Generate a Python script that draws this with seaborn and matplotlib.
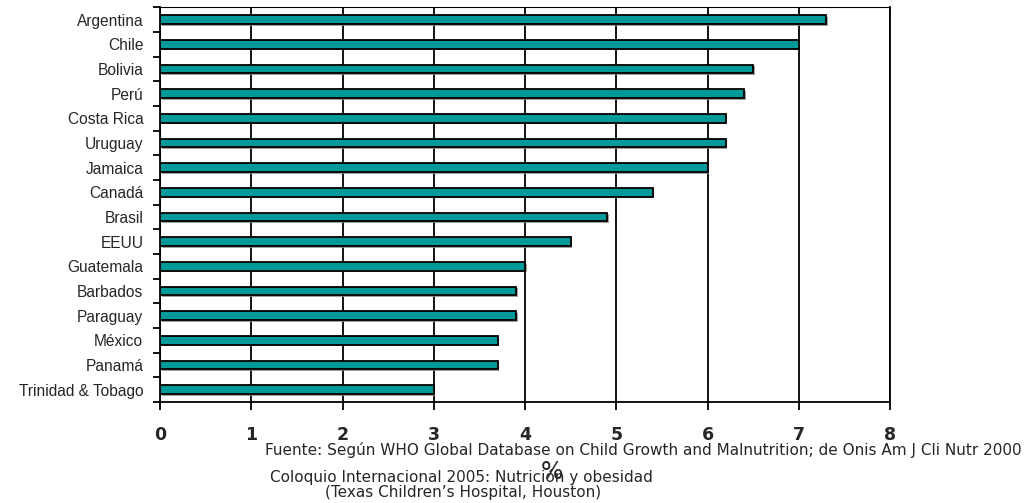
import matplotlib
matplotlib.use("Agg")
import matplotlib.pyplot as plt
import matplotlib.patheffects as pe
import numpy as np
import pandas as pd
import seaborn as sns

countries = ["Argentina", "Chile", "Bolivia", "Perú", "Costa Rica", "Uruguay",
             "Jamaica", "Canadá", "Brasil", "EEUU", "Guatemala", "Barbados",
             "Paraguay", "México", "Panamá", "Trinidad & Tobago"]
prevalence = [7.3, 7.0, 6.5, 6.4, 6.2, 6.2, 6.0, 5.4, 4.9, 4.5, 4.0, 3.9,
              3.9, 3.7, 3.7, 3.0]
x_ticks = [0, 1, 2, 3, 4, 5, 6, 7, 8]

source_note = ("Fuente: Según WHO Global Database on Child Growth and "
               "Malnutrition; de Onis Am J Cli Nutr 2000")
event_note = "Coloquio Internacional 2005: Nutrición y obesidad"
venue_note = "(Texas Children\u2019s Hospital, Houston)"

df = pd.DataFrame({"pais": countries, "valor": prevalence})

sns.set_theme(style="white")
plt.rcParams["font.family"] = ["Liberation Sans", "DejaVu Sans"]

fig = plt.figure(figsize=(10.27, 5.03), dpi=100)
ax = fig.add_axes([0.1558, 0.2008, 0.7108, 0.7846])

sns.barplot(data=df, x="valor", y="pais", orient="h", color="#009999",
            saturation=1, width=0.36, edgecolor="black", linewidth=1.3,
            ax=ax, zorder=3)
for bar in ax.patches:
    bar.set_path_effects([pe.SimplePatchShadow(offset=(1.2, -1.2),
                                               shadow_rgbFace="#888888",
                                               alpha=0.8),
                          pe.Normal()])

ax.set_xlim(0, 8)
ax.set_ylim(len(countries) - 0.5, -0.5)
ax.set_xticks(x_ticks)
ax.set_xticklabels([str(t) for t in x_ticks], fontsize=12.5, fontweight="bold",
                   family=["DejaVu Sans"])
ax.tick_params(axis="x", direction="out", length=6, width=1.3, color="black",
               pad=11, bottom=True)

# category labels centred, tick marks on the category boundaries
ax.set_yticks(range(len(countries)))
ax.set_yticklabels(countries, fontsize=11.2)
ax.tick_params(axis="y", which="major", length=0, pad=12)
ax.set_yticks(np.arange(-0.5, len(countries) + 0.5, 1), minor=True)
ax.tick_params(axis="y", which="minor", direction="out", length=5, width=1.3,
               color="black", left=True)

ax.xaxis.grid(True, color="black", linewidth=1.3, zorder=1)
ax.yaxis.grid(False)
for side in ["left", "bottom", "top", "right"]:
    ax.spines[side].set_visible(True)
    ax.spines[side].set_color("black")
    ax.spines[side].set_linewidth(1.3)
ax.spines["top"].set_linewidth(0.8)

ax.set_ylabel("")
ax.set_xlabel("%", fontsize=17, family=["DejaVu Sans"])
ax.xaxis.set_label_coords(0.537, -0.146)

fig.text(0.995, 0.0954, source_note, ha="right", va="baseline", fontsize=11,
         family=["DejaVu Sans"])
fig.text(0.263, 0.0417, event_note, ha="left", va="baseline", fontsize=11,
         family=["DejaVu Sans"])
fig.text(0.316, 0.0119, venue_note, ha="left", va="baseline", fontsize=11,
         family=["DejaVu Sans"])

fig.savefig("out.png", dpi=100, facecolor="white")
